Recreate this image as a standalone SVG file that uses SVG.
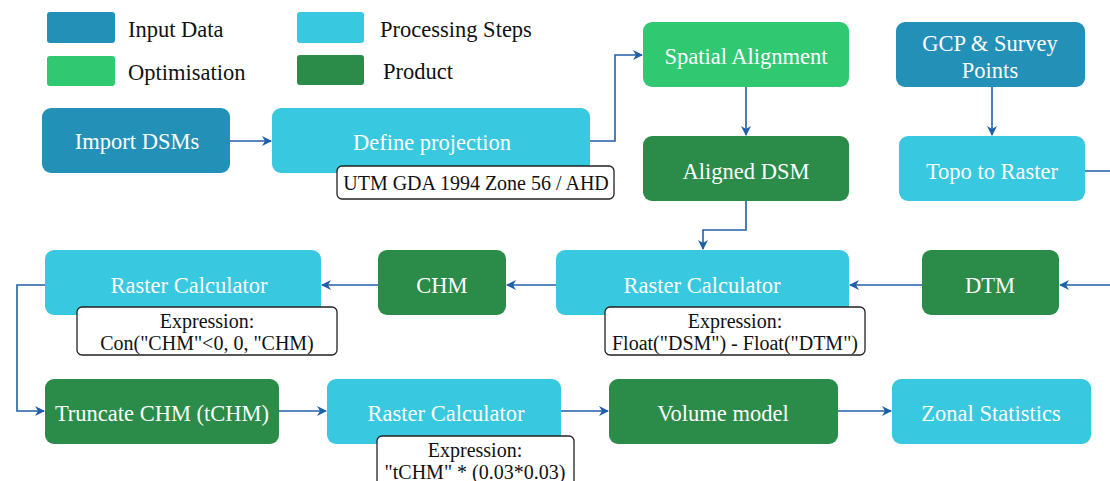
<svg xmlns="http://www.w3.org/2000/svg" width="1110" height="481" viewBox="0 0 1110 481">
<defs>
<marker id="arr" viewBox="0 0 10 10" refX="9" refY="5" markerWidth="10" markerHeight="10" markerUnits="userSpaceOnUse" orient="auto">
<path d="M0,0 L10,5 L0,10 L3,5 Z" fill="#1f5fa8"/>
</marker>
<style>
.inp{fill:#2390b8}
.proc{fill:#38c8e0}
.opt{fill:#31c872}
.prod{fill:#2a8c48}
.nt{font-size:22.5px;fill:#ffffff;text-anchor:middle}
.lg{font-size:22.5px;fill:#111111}
.lb{fill:#ffffff;stroke:#222222;stroke-width:1.3}
.lt{font-size:20px;fill:#111111;text-anchor:middle}
.c{fill:none;stroke:#1f5fa8;stroke-width:1.6;marker-end:url(#arr)}
</style>
</defs>
<rect width="1110" height="481" fill="#ffffff"/>
<g font-family="Liberation Serif, Times New Roman, serif">
<g id="legend">
<rect class="inp" x="47" y="12" width="68" height="31" rx="3"/>
<text class="lg" x="128" y="37">Input Data</text>
<rect class="proc" x="297" y="12" width="67" height="31" rx="3"/>
<text class="lg" x="380" y="37">Processing Steps</text>
<rect class="opt" x="47" y="56" width="68" height="30" rx="3"/>
<text class="lg" x="128" y="80">Optimisation</text>
<rect class="prod" x="297" y="55" width="67" height="30" rx="3"/>
<text class="lg" x="383" y="79">Product</text>
</g>
<g id="connectors">
<path class="c" d="M230,141 H271"/>
<path class="c" d="M590,141 H615 V55 H642"/>
<path class="c" d="M746,87 V135"/>
<path class="c" d="M992,87 V135"/>
<path class="c" d="M1085,171 H1120 V285 H1060"/>
<path class="c" d="M746,201 V230 H703 V249"/>
<path class="c" d="M922,285 H850"/>
<path class="c" d="M556,285 H507"/>
<path class="c" d="M378,285 H322"/>
<path class="c" d="M45,285 H17 V411 H44"/>
<path class="c" d="M279,411 H326"/>
<path class="c" d="M561,411 H608"/>
<path class="c" d="M838,411 H891"/>
</g>
<g id="import-dsms">
<rect class="inp" x="42" y="108" width="188" height="65" rx="9"/>
<text class="nt" x="137" y="149">Import DSMs</text>
</g>
<g id="define-projection">
<rect class="proc" x="272" y="108" width="318" height="65" rx="9"/>
<text class="nt" x="432" y="150">Define projection</text>
</g>
<g id="label-utm">
<rect class="lb" x="337" y="166" width="277" height="33" rx="5"/>
<text class="lt" x="476" y="190">UTM GDA 1994 Zone 56 / AHD</text>
</g>
<g id="spatial-alignment">
<rect class="opt" x="643" y="22" width="206" height="65" rx="9"/>
<text class="nt" x="746" y="64">Spatial Alignment</text>
</g>
<g id="aligned-dsm">
<rect class="prod" x="643" y="136" width="206" height="65" rx="9"/>
<text class="nt" x="746" y="179">Aligned DSM</text>
</g>
<g id="gcp">
<rect class="inp" x="896" y="22" width="189" height="65" rx="9"/>
<text class="nt" x="990" y="51">GCP &amp; Survey</text>
<text class="nt" x="990" y="78">Points</text>
</g>
<g id="topo-to-raster">
<rect class="proc" x="899" y="136" width="186" height="65" rx="9"/>
<text class="nt" x="992" y="179">Topo to Raster</text>
</g>
<g id="raster-calc-mid">
<rect class="proc" x="556" y="250" width="293" height="65" rx="9"/>
<text class="nt" x="702" y="293">Raster Calculator</text>
</g>
<g id="label-float">
<rect class="lb" x="605" y="307" width="260" height="48" rx="5"/>
<text class="lt" x="735" y="328">Expression:</text>
<text class="lt" x="735" y="350">Float("DSM") - Float("DTM")</text>
</g>
<g id="dtm">
<rect class="prod" x="922" y="250" width="137" height="65" rx="9"/>
<text class="nt" x="990" y="293">DTM</text>
</g>
<g id="chm">
<rect class="prod" x="378" y="250" width="128" height="65" rx="9"/>
<text class="nt" x="442" y="293">CHM</text>
</g>
<g id="raster-calc-left">
<rect class="proc" x="45" y="250" width="276" height="65" rx="9"/>
<text class="nt" x="189" y="293">Raster Calculator</text>
</g>
<g id="label-con">
<rect class="lb" x="77" y="307" width="260" height="48" rx="5"/>
<text class="lt" x="207" y="328">Expression:</text>
<text class="lt" x="207" y="350">Con("CHM"&lt;0, 0, "CHM)</text>
</g>
<g id="truncate-chm">
<rect class="prod" x="45" y="379" width="234" height="65" rx="9"/>
<text class="nt" x="162" y="421">Truncate CHM (tCHM)</text>
</g>
<g id="raster-calc-bottom">
<rect class="proc" x="327" y="379" width="234" height="65" rx="9"/>
<text class="nt" x="446" y="421">Raster Calculator</text>
</g>
<g id="label-tchm">
<rect class="lb" x="377" y="436" width="197" height="50" rx="5"/>
<text class="lt" x="475" y="457">Expression:</text>
<text class="lt" x="475" y="479">"tCHM" * (0.03*0.03)</text>
</g>
<g id="volume-model">
<rect class="prod" x="609" y="379" width="229" height="65" rx="9"/>
<text class="nt" x="723" y="421">Volume model</text>
</g>
<g id="zonal-statistics">
<rect class="proc" x="892" y="379" width="199" height="65" rx="9"/>
<text class="nt" x="991" y="421">Zonal Statistics</text>
</g>
</g>
</svg>
